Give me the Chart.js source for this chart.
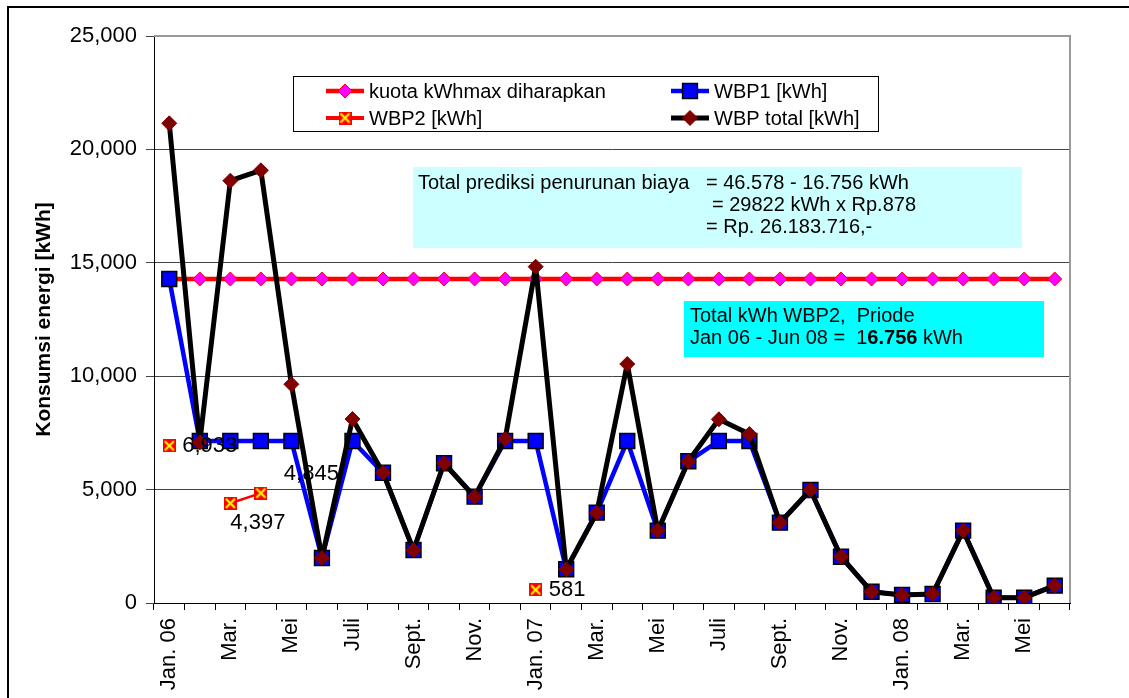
<!DOCTYPE html>
<html>
<head>
<meta charset="utf-8">
<script src="https://cdn.jsdelivr.net/npm/chart.js@4.4.1/dist/chart.umd.min.js"></script>
<style>
    body { margin: 0; background: #fff; }
    canvas { display: block; }
</style>
</head>
<body>
<canvas id="energyChart" width="1129" height="698"></canvas>
<script>
// Months Jan 2006 - Jun 2008 (only every second one is printed on the axis)
const months = [
    "Jan. 06", "Feb.", "Mar.", "Apr.", "Mei", "Jun.", "Juli", "Agust.", "Sept.", "Okt.", "Nov.", "Des.",
    "Jan. 07", "Feb.", "Mar.", "Apr.", "Mei", "Jun.", "Juli", "Agust.", "Sept.", "Okt.", "Nov.", "Des.",
    "Jan. 08", "Feb.", "Mar.", "Apr.", "Mei", "Jun."
];

const kuota = [
    14286, 14286, 14286, 14286, 14286, 14286, 14286, 14286, 14286, 14286, 14286, 14286, 14286, 14286, 14286,
    14286, 14286, 14286, 14286, 14286, 14286, 14286, 14286, 14286, 14286, 14286, 14286, 14286, 14286, 14286
];

const wbp1 = [
    14286, 7143, 7143, 7143, 7143, 1984, 7143, 5745, 2337, 6160, 4687, 7143, 7143, 1486, 3982,
    7143, 3188, 6248, 7143, 7143, 3541, 4982, 2041, 498, 353, 397, 3188, 234, 234, 763
];

const wbp2 = [
    6933, null, 4397, 4845, null, null, null, null, null, null, null, null, 581, null, null,
    null, null, null, null, null, null, null, null, null, null, null, null, null, null, null
];

const wbpTotal = [
    21150, 7086, 18620, 19078, 9643, 1984, 8113, 5745, 2337, 6160, 4687, 7231, 14828, 1486, 3982,
    10538, 3188, 6248, 8099, 7451, 3541, 4982, 2041, 498, 353, 397, 3188, 234, 234, 763
];

const yMax = 25000;
const yStep = 5000;

const FONT = '"Liberation Sans", Arial, sans-serif';

// where the WBP2 value labels sit relative to their point
const labelOffsets = { 0: [13, 0], 2: [0, 20], 3: [23, -19], 12: [13, 0] };

function makeCrossMarker(size)
{
    const c = document.createElement("canvas");
    c.width = size;
    c.height = size;
    const g = c.getContext("2d");
    g.fillStyle = "#FF0000";
    g.fillRect(0, 0, size, size);
    g.strokeStyle = "#FFFF00";
    g.lineWidth = 2;
    g.beginPath();
    g.moveTo(2, 2);
    g.lineTo(size - 2, size - 2);
    g.moveTo(size - 2, 2);
    g.lineTo(2, size - 2);
    g.stroke();
    return c;
}

const crossMarker = makeCrossMarker(13);

function drawLegendItem(ctx, x, y, ds)
{
    ctx.strokeStyle = ds.borderColor;
    ctx.lineWidth = Math.max(ds.borderWidth, 4);
    ctx.beginPath();
    ctx.moveTo(x - 19, y);
    ctx.lineTo(x + 19, y);
    ctx.stroke();

    ctx.fillStyle = ds.pointBackgroundColor;
    ctx.strokeStyle = ds.pointBorderColor;
    ctx.lineWidth = ds.pointBorderWidth;
    Chart.helpers.drawPoint(ctx, {
        pointStyle: ds.pointStyle,
        radius: ds.pointRadius,
        borderWidth: ds.pointBorderWidth,
        rotation: 0
    }, x, y);

    ctx.fillStyle = "#000";
    ctx.font = "20px " + FONT;
    ctx.textAlign = "left";
    ctx.textBaseline = "middle";
    ctx.fillText(ds.label, x + 24, y + 1);
}

function drawSegments(ctx, x, y, parts)
{
    parts.forEach(p =>
    {
        ctx.font = (p.bold ? "bold " : "") + "20px " + FONT;
        ctx.fillText(p.text, x, y);
        x += ctx.measureText(p.text).width;
    });
}

const decorPlugin = {
    id: "decor",
    beforeDatasetsDraw(chart)
    {
        const ctx = chart.ctx;
        const a = chart.chartArea;
        ctx.save();
        ctx.strokeStyle = "#999";
        ctx.lineWidth = 2;
        ctx.beginPath();
        ctx.moveTo(a.left, a.top);
        ctx.lineTo(a.right, a.top);
        ctx.lineTo(a.right, a.bottom);
        ctx.stroke();
        ctx.restore();
    },
    afterDatasetsDraw(chart)
    {
        const ctx = chart.ctx;
        ctx.save();

        // value labels of WBP2
        const meta = chart.getDatasetMeta(2);
        ctx.fillStyle = "#000";
        ctx.font = "22px " + FONT;
        ctx.textAlign = "left";
        ctx.textBaseline = "middle";
        Object.keys(labelOffsets).forEach(k =>
        {
            const pt = meta.data[k];
            const off = labelOffsets[k];
            ctx.fillText(wbp2[k].toLocaleString("en-US"), pt.x + off[0], pt.y + off[1]);
        });

        // outer frame
        ctx.strokeStyle = "#000";
        ctx.lineWidth = 2;
        ctx.strokeRect(8, 7, 1300, 900);

        // legend box
        ctx.fillStyle = "#fff";
        ctx.fillRect(293, 76, 585, 55);
        ctx.strokeStyle = "#000";
        ctx.lineWidth = 1;
        ctx.strokeRect(293.5, 76.5, 585, 55);
        const ds = chart.data.datasets;
        drawLegendItem(ctx, 345, 91, ds[0]);
        drawLegendItem(ctx, 690, 91, ds[1]);
        drawLegendItem(ctx, 345, 118, ds[2]);
        drawLegendItem(ctx, 690, 118, ds[3]);

        // info boxes
        ctx.fillStyle = "#CCFFFF";
        ctx.fillRect(413, 167, 609, 81);
        ctx.fillStyle = "#00FFFF";
        ctx.fillRect(684, 301, 360, 56);

        ctx.fillStyle = "#000";
        ctx.textAlign = "left";
        ctx.textBaseline = "alphabetic";
        ctx.font = "20px " + FONT;
        ctx.fillText("Total prediksi penurunan biaya", 418, 189);
        ctx.fillText("= 46.578 - 16.756 kWh", 706, 189);
        ctx.fillText("= 29822 kWh x Rp.878", 712, 211);
        ctx.fillText("= Rp. 26.183.716,-", 706, 233);

        ctx.fillText("Total kWh WBP2,  Priode", 690, 322);
        drawSegments(ctx, 690, 344, [
            { text: "Jan 06 - Jun 08 =  1" },
            { text: "6.756", bold: true },
            { text: " kWh" }
        ]);

        ctx.restore();
    }
};

const ctx = document.getElementById("energyChart");

new Chart(ctx, {
    type: "line",
    data: {
        labels: months,
        datasets: [
            {
                label: "kuota kWhmax diharapkan",
                data: kuota,
                borderColor: "#FF0000",
                borderWidth: 4.5,
                pointStyle: "rectRot",
                pointRadius: 7,
                pointBackgroundColor: "#FF00FF",
                pointBorderColor: "#FF0000",
                pointBorderWidth: 1,
                order: 3
            },
            {
                label: "WBP1 [kWh]",
                data: wbp1,
                borderColor: "#0000FF",
                borderWidth: 4.5,
                borderJoinStyle: "round",
                pointStyle: "rect",
                pointRadius: 10.5,
                pointBackgroundColor: "#0000FF",
                pointBorderColor: "#000",
                pointBorderWidth: 1.5,
                order: 2
            },
            {
                label: "WBP2 [kWh]",
                data: wbp2,
                borderColor: "#FF0000",
                borderWidth: 2.5,
                pointStyle: crossMarker,
                pointRadius: 7,
                pointBackgroundColor: "#FF0000",
                pointBorderColor: "#FF0000",
                pointBorderWidth: 0,
                order: 1
            },
            {
                label: "WBP total [kWh]",
                data: wbpTotal,
                borderColor: "#000",
                borderWidth: 5,
                borderJoinStyle: "round",
                pointStyle: "rectRot",
                pointRadius: 7.5,
                pointBackgroundColor: "#800000",
                pointBorderColor: "#800000",
                pointBorderWidth: 1,
                order: 0
            }
        ]
    },
    options: {
        responsive: false,
        animation: false,
        devicePixelRatio: 1,
        layout: { padding: { top: 36, right: 59, left: 0, bottom: 0 } },
        plugins: {
            legend: { display: false },
            tooltip: { enabled: false }
        },
        scales: {
            x: {
                offset: true,
                grid: { drawOnChartArea: false, offset: true, tickLength: 7, color: "#000" },
                border: { color: "#000", width: 1 },
                ticks: {
                    autoSkip: false,
                    maxRotation: 90,
                    minRotation: 90,
                    padding: 8,
                    color: "#000",
                    font: { size: 22, family: FONT },
                    callback: (v, i) => (i % 2 === 0 ? months[i] : "")
                },
                afterFit: s => { s.height = 95; }
            },
            y: {
                min: 0,
                max: yMax,
                ticks: {
                    stepSize: yStep,
                    padding: 9,
                    color: "#000",
                    font: { size: 22, family: FONT },
                    callback: v => v.toLocaleString("en-US")
                },
                grid: { color: "#444", tickLength: 8 },
                border: { color: "#000" },
                title: {
                    display: true,
                    text: "Konsumsi energi [kWh]",
                    color: "#000",
                    font: { size: 21, weight: "bold", family: FONT },
                    padding: { top: 32, bottom: 0 }
                },
                afterFit: s => { s.width = 154; }
            }
        }
    },
    plugins: [decorPlugin]
});
</script>
</body>
</html>
